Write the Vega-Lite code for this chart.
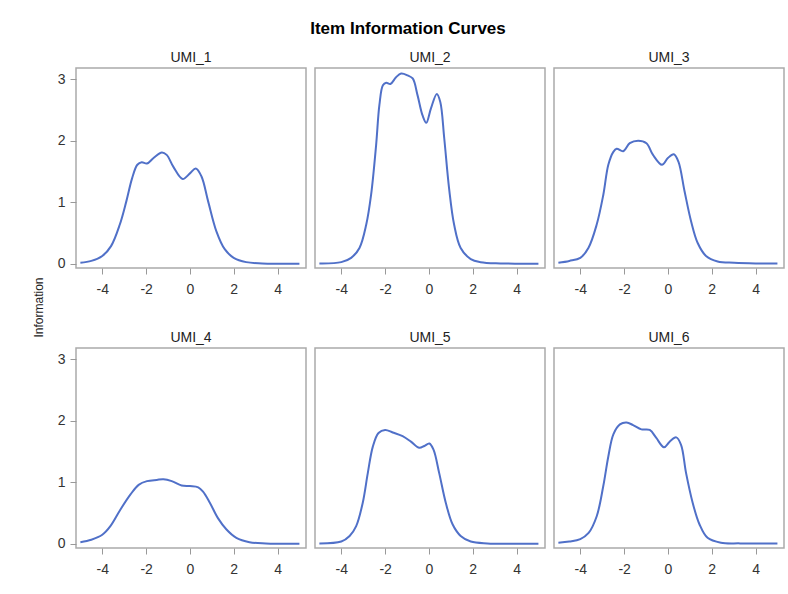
{
  "$schema": "https://vega.github.io/schema/vega-lite/v6.json",
  "padding": {"left": 31, "top": 20, "right": 5, "bottom": 5},
  "background": "white",
  "title": {"text": "Item Information Curves", "fontSize": 17, "fontWeight": "bold", "font": "Liberation Sans", "color": "#000000", "anchor": "middle", "frame": "bounds", "offset": 12},
  "data": {"values": [
    {"item":"UMI_1","theta":-5,"info":0.02},{"item":"UMI_1","theta":-4.5,"info":0.05},{"item":"UMI_1","theta":-4,"info":0.13},{"item":"UMI_1","theta":-3.6,"info":0.29},{"item":"UMI_1","theta":-3.2,"info":0.64},{"item":"UMI_1","theta":-2.9,"info":1.02},{"item":"UMI_1","theta":-2.64,"info":1.39},{"item":"UMI_1","theta":-2.4,"info":1.61},{"item":"UMI_1","theta":-2.2,"info":1.65},{"item":"UMI_1","theta":-1.96,"info":1.63},{"item":"UMI_1","theta":-1.66,"info":1.72},{"item":"UMI_1","theta":-1.28,"info":1.81},{"item":"UMI_1","theta":-1.06,"info":1.77},{"item":"UMI_1","theta":-0.76,"info":1.58},{"item":"UMI_1","theta":-0.33,"info":1.38},{"item":"UMI_1","theta":0,"info":1.47},{"item":"UMI_1","theta":0.27,"info":1.55},{"item":"UMI_1","theta":0.53,"info":1.42},{"item":"UMI_1","theta":0.83,"info":1.02},{"item":"UMI_1","theta":1.21,"info":0.53},{"item":"UMI_1","theta":1.59,"info":0.24},{"item":"UMI_1","theta":2.0,"info":0.1},{"item":"UMI_1","theta":2.57,"info":0.03},{"item":"UMI_1","theta":3.3,"info":0.01},{"item":"UMI_1","theta":4,"info":0.005},{"item":"UMI_1","theta":5,"info":0.005},
    {"item":"UMI_2","theta":-5,"info":0.01},{"item":"UMI_2","theta":-4,"info":0.03},{"item":"UMI_2","theta":-3.55,"info":0.1},{"item":"UMI_2","theta":-3.17,"info":0.26},{"item":"UMI_2","theta":-2.86,"info":0.64},{"item":"UMI_2","theta":-2.64,"info":1.12},{"item":"UMI_2","theta":-2.41,"info":1.93},{"item":"UMI_2","theta":-2.26,"info":2.58},{"item":"UMI_2","theta":-2.1,"info":2.9},{"item":"UMI_2","theta":-1.95,"info":2.94},{"item":"UMI_2","theta":-1.76,"info":2.92},{"item":"UMI_2","theta":-1.5,"info":3.03},{"item":"UMI_2","theta":-1.27,"info":3.09},{"item":"UMI_2","theta":-0.97,"info":3.06},{"item":"UMI_2","theta":-0.74,"info":3.01},{"item":"UMI_2","theta":-0.52,"info":2.74},{"item":"UMI_2","theta":-0.29,"info":2.41},{"item":"UMI_2","theta":-0.12,"info":2.29},{"item":"UMI_2","theta":0.09,"info":2.52},{"item":"UMI_2","theta":0.36,"info":2.76},{"item":"UMI_2","theta":0.52,"info":2.63},{"item":"UMI_2","theta":0.7,"info":2.04},{"item":"UMI_2","theta":0.92,"info":1.23},{"item":"UMI_2","theta":1.15,"info":0.64},{"item":"UMI_2","theta":1.45,"info":0.26},{"item":"UMI_2","theta":1.91,"info":0.08},{"item":"UMI_2","theta":2.36,"info":0.03},{"item":"UMI_2","theta":3.27,"info":0.01},{"item":"UMI_2","theta":4,"info":0.005},{"item":"UMI_2","theta":5,"info":0.005},
    {"item":"UMI_3","theta":-5,"info":0.02},{"item":"UMI_3","theta":-4.5,"info":0.05},{"item":"UMI_3","theta":-4,"info":0.1},{"item":"UMI_3","theta":-3.63,"info":0.26},{"item":"UMI_3","theta":-3.25,"info":0.64},{"item":"UMI_3","theta":-2.95,"info":1.12},{"item":"UMI_3","theta":-2.72,"info":1.61},{"item":"UMI_3","theta":-2.49,"info":1.82},{"item":"UMI_3","theta":-2.34,"info":1.87},{"item":"UMI_3","theta":-2.04,"info":1.83},{"item":"UMI_3","theta":-1.74,"info":1.96},{"item":"UMI_3","theta":-1.36,"info":2.0},{"item":"UMI_3","theta":-0.98,"info":1.96},{"item":"UMI_3","theta":-0.68,"info":1.77},{"item":"UMI_3","theta":-0.27,"info":1.61},{"item":"UMI_3","theta":0,"info":1.72},{"item":"UMI_3","theta":0.27,"info":1.78},{"item":"UMI_3","theta":0.48,"info":1.66},{"item":"UMI_3","theta":0.76,"info":1.18},{"item":"UMI_3","theta":1.06,"info":0.69},{"item":"UMI_3","theta":1.36,"info":0.34},{"item":"UMI_3","theta":1.74,"info":0.13},{"item":"UMI_3","theta":2.27,"info":0.04},{"item":"UMI_3","theta":3.02,"info":0.02},{"item":"UMI_3","theta":4,"info":0.01},{"item":"UMI_3","theta":5,"info":0.01},
    {"item":"UMI_4","theta":-5,"info":0.03},{"item":"UMI_4","theta":-4.5,"info":0.07},{"item":"UMI_4","theta":-4,"info":0.15},{"item":"UMI_4","theta":-3.63,"info":0.29},{"item":"UMI_4","theta":-3.17,"info":0.56},{"item":"UMI_4","theta":-2.72,"info":0.8},{"item":"UMI_4","theta":-2.34,"info":0.96},{"item":"UMI_4","theta":-1.96,"info":1.02},{"item":"UMI_4","theta":-1.51,"info":1.04},{"item":"UMI_4","theta":-1.21,"info":1.05},{"item":"UMI_4","theta":-0.83,"info":1.02},{"item":"UMI_4","theta":-0.38,"info":0.95},{"item":"UMI_4","theta":0,"info":0.94},{"item":"UMI_4","theta":0.38,"info":0.92},{"item":"UMI_4","theta":0.6,"info":0.85},{"item":"UMI_4","theta":0.91,"info":0.67},{"item":"UMI_4","theta":1.28,"info":0.42},{"item":"UMI_4","theta":1.66,"info":0.24},{"item":"UMI_4","theta":2.12,"info":0.1},{"item":"UMI_4","theta":2.72,"info":0.03},{"item":"UMI_4","theta":3.47,"info":0.01},{"item":"UMI_4","theta":5,"info":0.005},
    {"item":"UMI_5","theta":-5,"info":0.01},{"item":"UMI_5","theta":-4,"info":0.04},{"item":"UMI_5","theta":-3.62,"info":0.13},{"item":"UMI_5","theta":-3.32,"info":0.29},{"item":"UMI_5","theta":-3.02,"info":0.67},{"item":"UMI_5","theta":-2.79,"info":1.15},{"item":"UMI_5","theta":-2.56,"info":1.58},{"item":"UMI_5","theta":-2.3,"info":1.8},{"item":"UMI_5","theta":-2.0,"info":1.85},{"item":"UMI_5","theta":-1.65,"info":1.81},{"item":"UMI_5","theta":-1.2,"info":1.75},{"item":"UMI_5","theta":-0.82,"info":1.66},{"item":"UMI_5","theta":-0.44,"info":1.56},{"item":"UMI_5","theta":-0.21,"info":1.59},{"item":"UMI_5","theta":0.02,"info":1.63},{"item":"UMI_5","theta":0.21,"info":1.53},{"item":"UMI_5","theta":0.47,"info":1.15},{"item":"UMI_5","theta":0.77,"info":0.67},{"item":"UMI_5","theta":1.08,"info":0.32},{"item":"UMI_5","theta":1.45,"info":0.13},{"item":"UMI_5","theta":1.91,"info":0.04},{"item":"UMI_5","theta":2.67,"info":0.01},{"item":"UMI_5","theta":4,"info":0.005},{"item":"UMI_5","theta":5,"info":0.005},
    {"item":"UMI_6","theta":-5,"info":0.02},{"item":"UMI_6","theta":-4.5,"info":0.04},{"item":"UMI_6","theta":-4,"info":0.08},{"item":"UMI_6","theta":-3.62,"info":0.18},{"item":"UMI_6","theta":-3.25,"info":0.45},{"item":"UMI_6","theta":-2.95,"info":0.94},{"item":"UMI_6","theta":-2.72,"info":1.42},{"item":"UMI_6","theta":-2.49,"info":1.78},{"item":"UMI_6","theta":-2.19,"info":1.94},{"item":"UMI_6","theta":-1.89,"info":1.97},{"item":"UMI_6","theta":-1.59,"info":1.93},{"item":"UMI_6","theta":-1.21,"info":1.86},{"item":"UMI_6","theta":-0.83,"info":1.85},{"item":"UMI_6","theta":-0.53,"info":1.72},{"item":"UMI_6","theta":-0.18,"info":1.57},{"item":"UMI_6","theta":0.08,"info":1.66},{"item":"UMI_6","theta":0.38,"info":1.73},{"item":"UMI_6","theta":0.6,"info":1.61},{"item":"UMI_6","theta":0.83,"info":1.15},{"item":"UMI_6","theta":1.13,"info":0.67},{"item":"UMI_6","theta":1.44,"info":0.32},{"item":"UMI_6","theta":1.81,"info":0.1},{"item":"UMI_6","theta":2.42,"info":0.02},{"item":"UMI_6","theta":3.3,"info":0.01},{"item":"UMI_6","theta":5,"info":0.01}
  ]},
  "concat": [
    {"width": 230, "height": 200, "title": {"text": "UMI_1"}, "transform": [{"filter": {"field": "item", "equal": "UMI_1"}}],
     "mark": {"type": "line", "interpolate": "catmull-rom"},
     "encoding": {"x": {"field": "theta", "type": "quantitative", "scale": {"domain": [-5.2, 5.3], "nice": false, "zero": false}, "axis": {"values": [-4,-2,0,2,4], "title": null}},
                  "y": {"field": "info", "type": "quantitative", "scale": {"domain": [-0.065, 3.18], "nice": false, "zero": false}, "axis": {"values": [0,1,2,3], "title": "Information", "titleX": -31, "titleY": 239}}}},
    {"width": 230, "height": 200, "title": {"text": "UMI_2"}, "transform": [{"filter": {"field": "item", "equal": "UMI_2"}}],
     "mark": {"type": "line", "interpolate": "catmull-rom"},
     "encoding": {"x": {"field": "theta", "type": "quantitative", "scale": {"domain": [-5.2, 5.3], "nice": false, "zero": false}, "axis": {"values": [-4,-2,0,2,4], "title": null}},
                  "y": {"field": "info", "type": "quantitative", "scale": {"domain": [-0.065, 3.18], "nice": false, "zero": false}, "axis": null}}},
    {"width": 230, "height": 200, "title": {"text": "UMI_3"}, "transform": [{"filter": {"field": "item", "equal": "UMI_3"}}],
     "mark": {"type": "line", "interpolate": "catmull-rom"},
     "encoding": {"x": {"field": "theta", "type": "quantitative", "scale": {"domain": [-5.2, 5.3], "nice": false, "zero": false}, "axis": {"values": [-4,-2,0,2,4], "title": null}},
                  "y": {"field": "info", "type": "quantitative", "scale": {"domain": [-0.065, 3.18], "nice": false, "zero": false}, "axis": null}}},
    {"width": 230, "height": 200, "title": {"text": "UMI_4"}, "transform": [{"filter": {"field": "item", "equal": "UMI_4"}}],
     "mark": {"type": "line", "interpolate": "catmull-rom"},
     "encoding": {"x": {"field": "theta", "type": "quantitative", "scale": {"domain": [-5.2, 5.3], "nice": false, "zero": false}, "axis": {"values": [-4,-2,0,2,4], "title": null}},
                  "y": {"field": "info", "type": "quantitative", "scale": {"domain": [-0.065, 3.18], "nice": false, "zero": false}, "axis": {"values": [0,1,2,3], "title": null}}}},
    {"width": 230, "height": 200, "title": {"text": "UMI_5"}, "transform": [{"filter": {"field": "item", "equal": "UMI_5"}}],
     "mark": {"type": "line", "interpolate": "catmull-rom"},
     "encoding": {"x": {"field": "theta", "type": "quantitative", "scale": {"domain": [-5.2, 5.3], "nice": false, "zero": false}, "axis": {"values": [-4,-2,0,2,4], "title": null}},
                  "y": {"field": "info", "type": "quantitative", "scale": {"domain": [-0.065, 3.18], "nice": false, "zero": false}, "axis": null}}},
    {"width": 230, "height": 200, "title": {"text": "UMI_6"}, "transform": [{"filter": {"field": "item", "equal": "UMI_6"}}],
     "mark": {"type": "line", "interpolate": "catmull-rom"},
     "encoding": {"x": {"field": "theta", "type": "quantitative", "scale": {"domain": [-5.2, 5.3], "nice": false, "zero": false}, "axis": {"values": [-4,-2,0,2,4], "title": null}},
                  "y": {"field": "info", "type": "quantitative", "scale": {"domain": [-0.065, 3.18], "nice": false, "zero": false}, "axis": null}}}
  ],
  "columns": 3,
  "spacing": {"row": 80, "column": 9},
  "bounds": "flush",
  "config": {
    "font": "Liberation Sans",
    "view": {"stroke": "#aaaaaa", "strokeWidth": 1.5},
    "line": {"color": "#5070c8", "strokeWidth": 2},
    "title": {"fontSize": 14, "fontWeight": "normal", "color": "#222222", "frame": "group", "offset": 3},
    "axis": {"grid": false, "domain": false, "tickColor": "#999999", "tickSize": 6, "labelFontSize": 14, "labelColor": "#333333", "titleFontSize": 12, "titleFontWeight": "normal", "titleColor": "#222222", "labelExpr": "'' + datum.value"},
    "axisX": {"labelPadding": 8},
    "axisY": {"labelPadding": 5}
  }
}
